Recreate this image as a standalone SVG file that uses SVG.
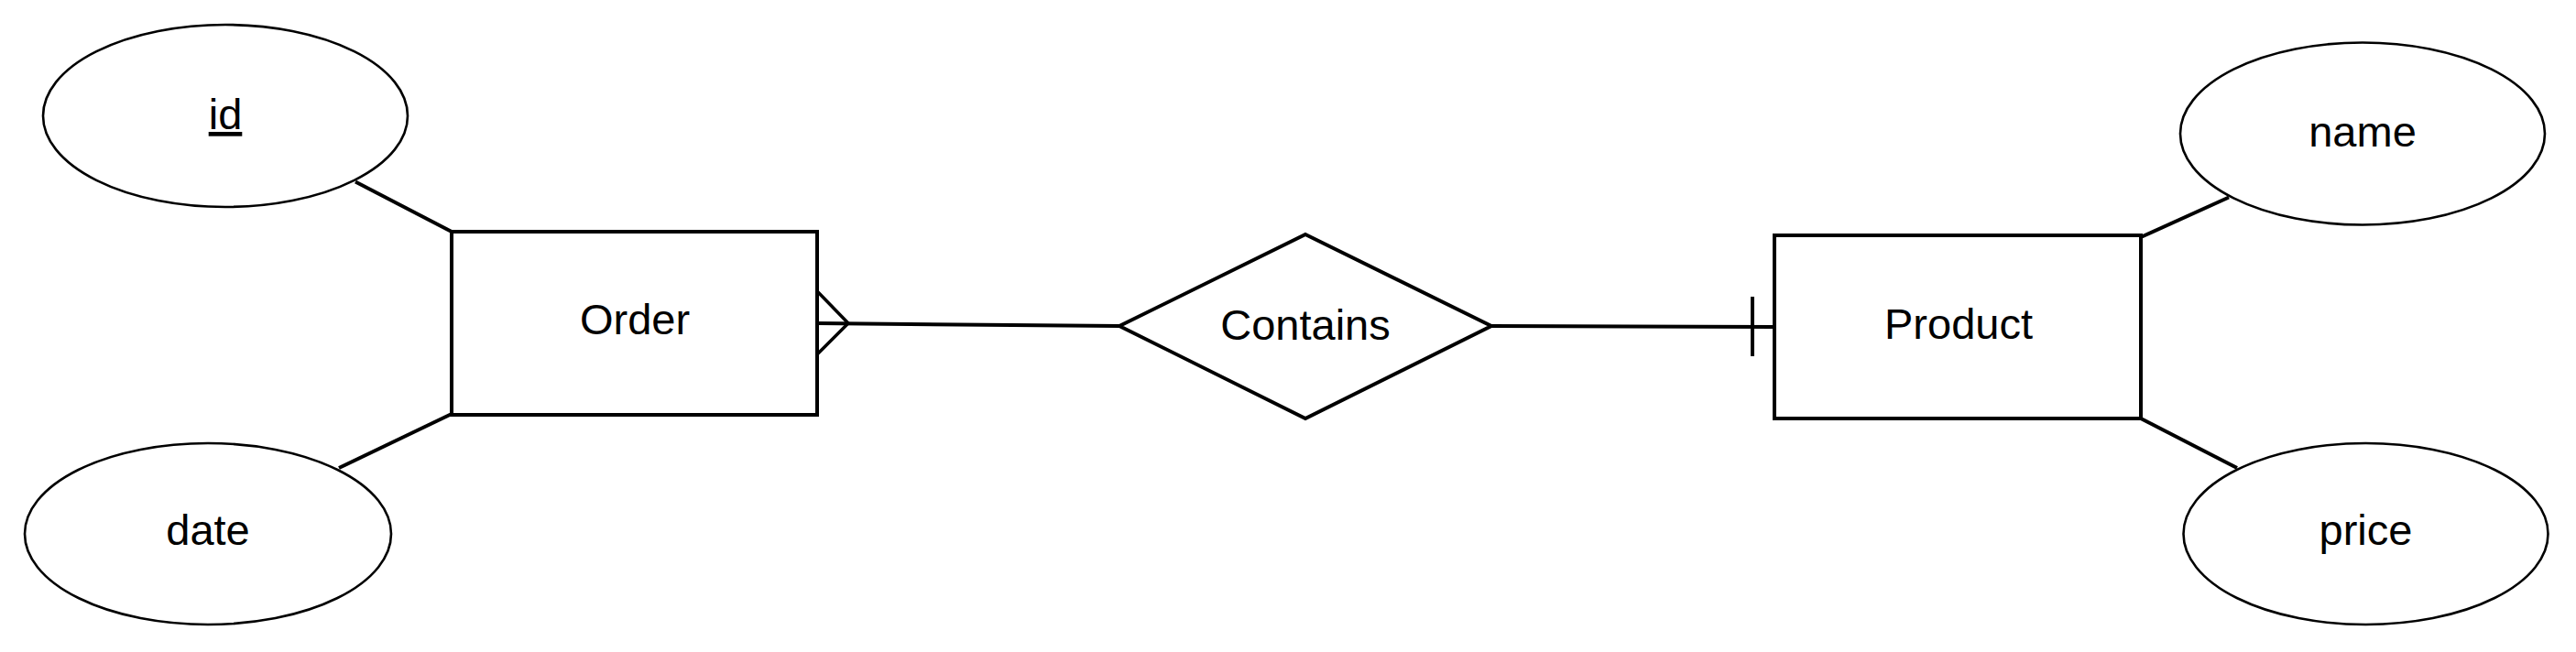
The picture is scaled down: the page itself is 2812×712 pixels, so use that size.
<svg xmlns="http://www.w3.org/2000/svg" width="2812" height="712" viewBox="0 0 2812 712">
<style>
.bg{fill:#ffffff}
.attr{fill:#ffffff;stroke:#000000;stroke-width:2.6}
.ent{fill:#ffffff;stroke:#000000;stroke-width:4}
.rel{fill:#ffffff;stroke:#000000;stroke-width:4}
.ln{fill:none;stroke:#000000;stroke-width:4;stroke-linecap:butt}
.mk{fill:none;stroke:#000000;stroke-width:3.5}
.lbl{font-family:"Liberation Sans",Arial,sans-serif;font-size:47px;fill:#000000;text-anchor:middle}
</style>
<rect class="bg" x="0" y="0" width="2812" height="712"/>
<g id="connectors">
<line class="ln" x1="388" y1="198.5" x2="493" y2="253"/>
<line class="ln" x1="370" y1="511" x2="493" y2="452"/>
<line class="ln" x1="2433" y1="215.5" x2="2337" y2="259"/>
<line class="ln" x1="2337" y1="457" x2="2442" y2="511"/>
<g id="order-contains">
<line class="ln" x1="892" y1="353" x2="1222" y2="356"/>
<polyline class="mk" points="892,318 926,353 892,387"/>
</g>
<g id="contains-product">
<line class="ln" x1="1628" y1="356" x2="1937" y2="357"/>
<line class="mk" x1="1913" y1="324" x2="1913" y2="389" style="stroke-width:4"/>
</g>
</g>
<g id="attr-id">
<ellipse class="attr" cx="246" cy="126.5" rx="199" ry="99.5"/>
<text class="lbl" x="246" y="141" text-decoration="underline">id</text>
</g>
<g id="attr-date">
<ellipse class="attr" cx="227" cy="583" rx="200" ry="99"/>
<text class="lbl" x="227" y="595">date</text>
</g>
<g id="entity-order">
<rect class="ent" x="493" y="253" width="399" height="200"/>
<text class="lbl" x="693" y="365">Order</text>
</g>
<g id="rel-contains">
<polygon class="rel" points="1425,256 1628,356 1425,457 1222,356"/>
<text class="lbl" x="1425" y="371">Contains</text>
</g>
<g id="entity-product">
<rect class="ent" x="1937" y="257" width="400" height="200"/>
<text class="lbl" x="2138" y="370">Product</text>
</g>
<g id="attr-name">
<ellipse class="attr" cx="2579" cy="146" rx="199" ry="99.5"/>
<text class="lbl" x="2579" y="160">name</text>
</g>
<g id="attr-price">
<ellipse class="attr" cx="2582.5" cy="583" rx="199" ry="99"/>
<text class="lbl" x="2582.5" y="595">price</text>
</g>
</svg>
